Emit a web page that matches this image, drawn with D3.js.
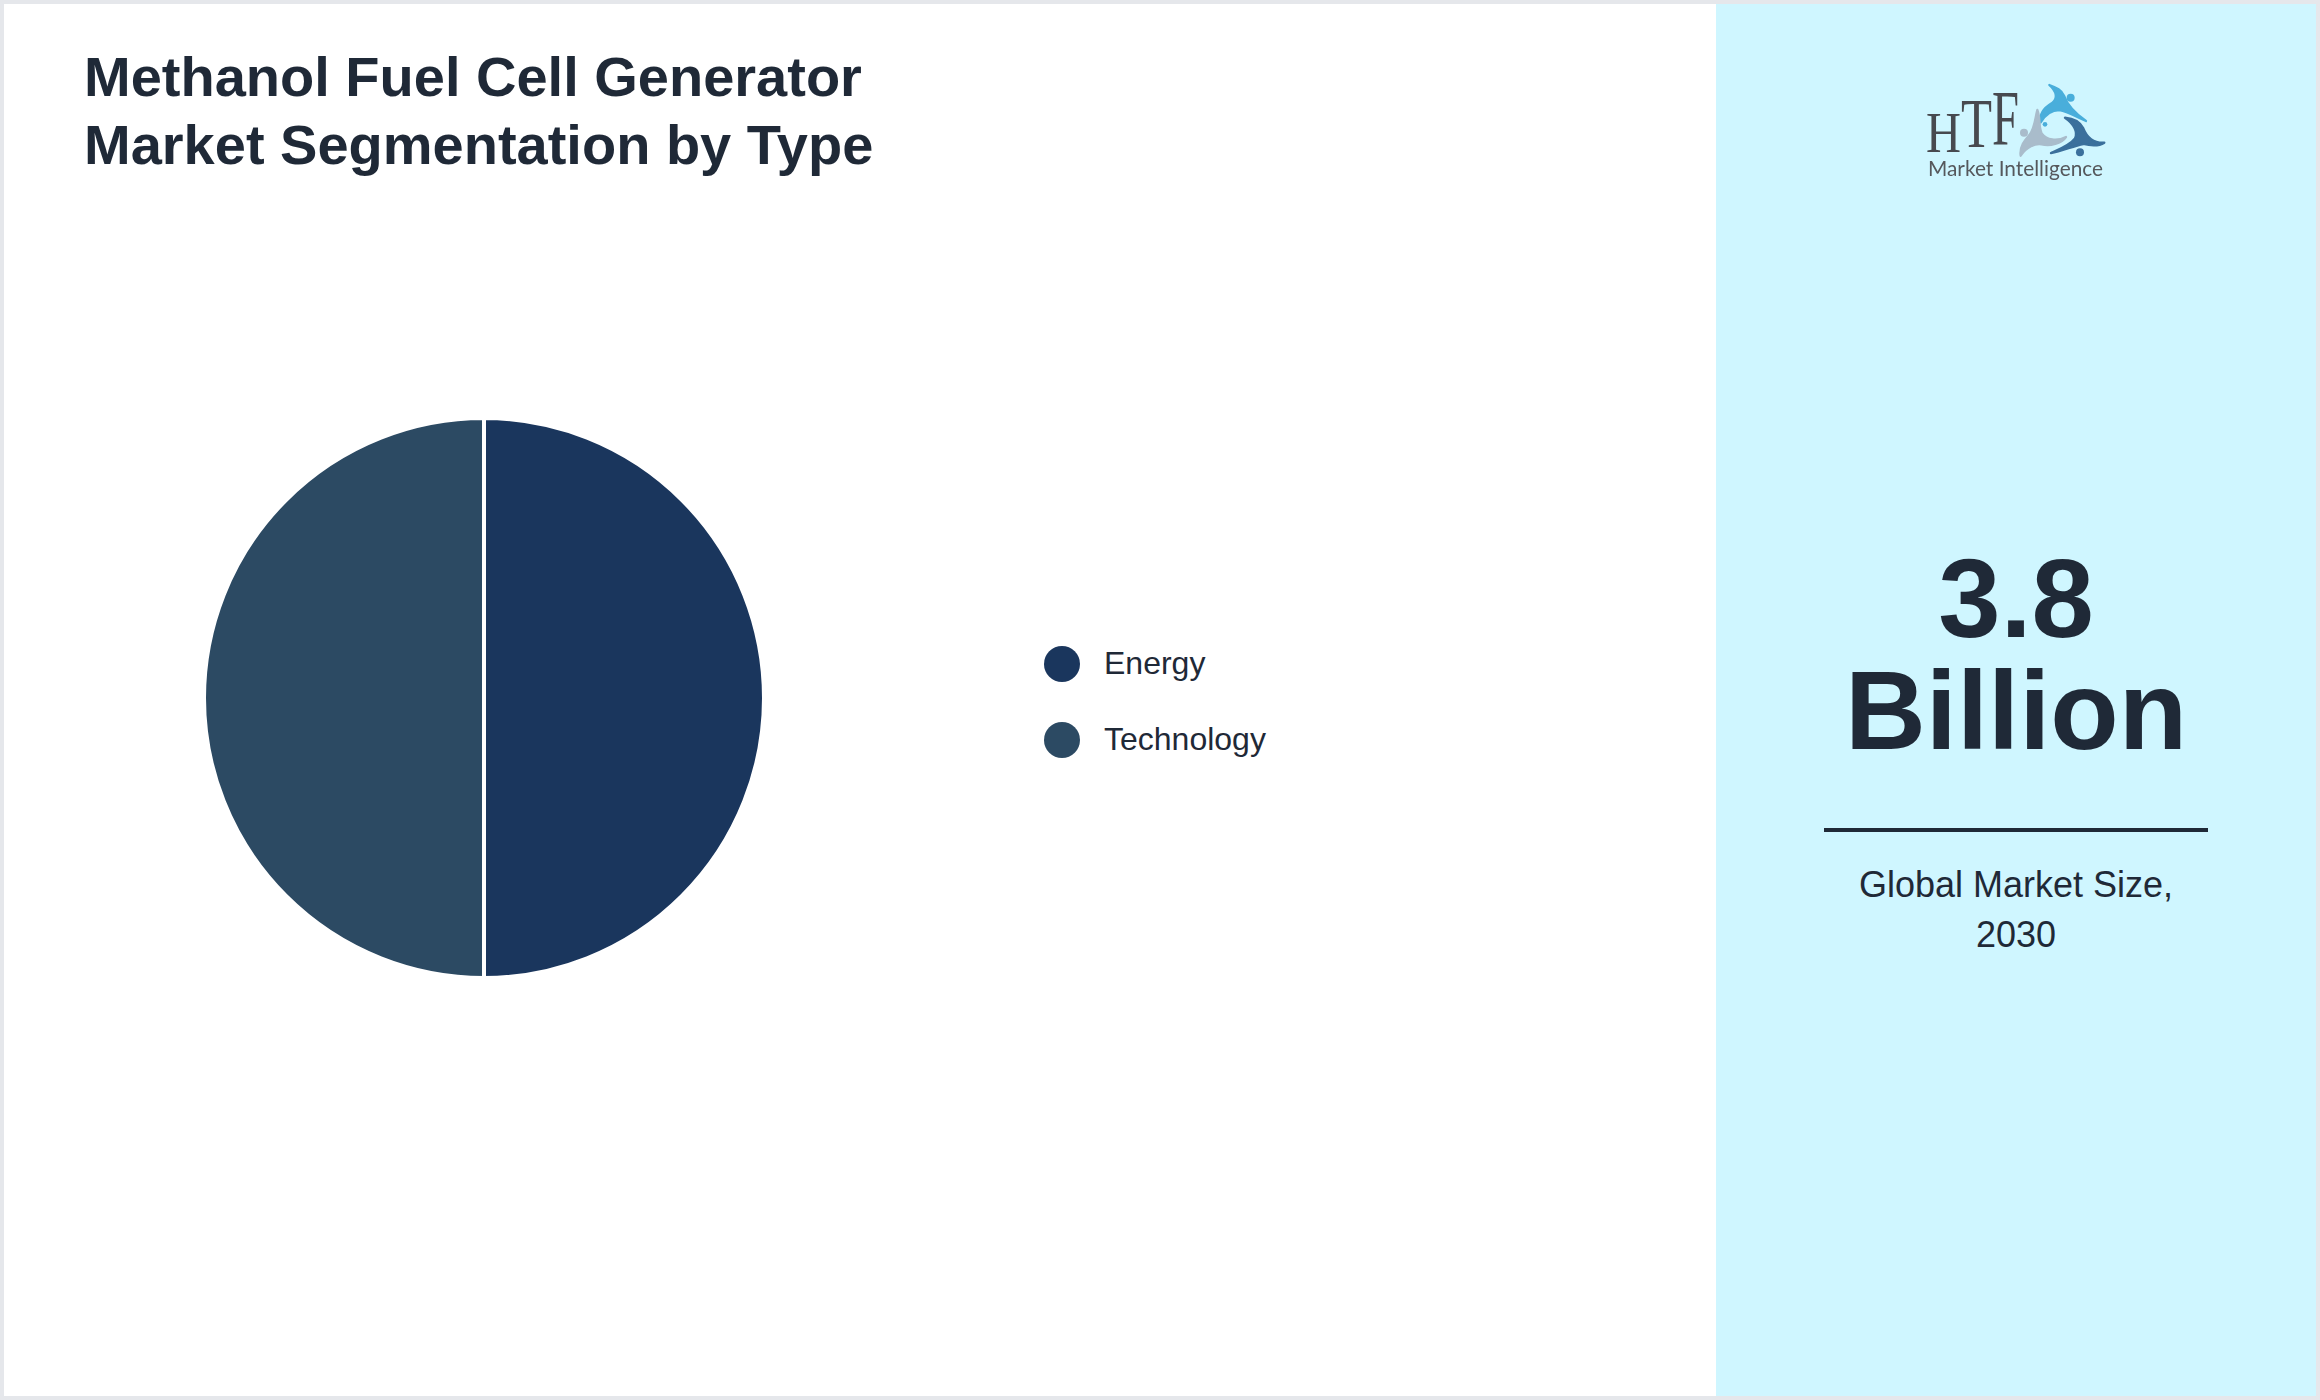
<!DOCTYPE html>
<html><head><meta charset="utf-8">
<script src="https://cdn.jsdelivr.net/npm/d3@7/dist/d3.min.js"></script>
<style>html,body{margin:0;padding:0;background:#fff}svg{display:block}</style>
</head><body><svg id="c" width="2320" height="1400"></svg>
<script>
const titleLines = ["Methanol Fuel Cell Generator", "Market Segmentation by Type"];
const categories = ["Energy", "Technology"];
const shareValues = [50, 50];
const sliceColors = ["#1a365d", "#2c4a63"];
const metricLines = ["3.8", "Billion"];
const captionLines = ["Global Market Size,", "2030"];
const logoLetters = ["H", "T", "F"];
const logoTagline = "Market Intelligence";

const sans = "'Liberation Sans', Arial, sans-serif";
const ink = "#1f2937";
const svg = d3.select("#c");

svg.append("rect").attr("width", 2320).attr("height", 1400).attr("fill", "#e5e7eb");
svg.append("rect").attr("x", 4).attr("y", 4).attr("width", 2312).attr("height", 1392).attr("fill", "#fff");
svg.append("rect").attr("x", 1716).attr("y", 4).attr("width", 600).attr("height", 1392).attr("fill", "#cff6ff");

svg.append("g").selectAll("text").data(titleLines).join("text")
  .attr("x", 84).attr("y", (d, i) => 96 + i * 68)
  .attr("font-family", sans).attr("font-weight", 700).attr("font-size", 56).attr("fill", ink)
  .text(d => d);

const pie = d3.pie().sort(null).value(d => d);
const arc = d3.arc().innerRadius(0).outerRadius(280);
svg.append("g").attr("transform", "translate(484,698)")
  .selectAll("path").data(pie(shareValues)).join("path")
  .attr("d", arc).attr("fill", (d, i) => sliceColors[i])
  .attr("stroke", "#fff").attr("stroke-width", 4);

const legend = svg.append("g").selectAll("g").data(categories).join("g")
  .attr("transform", (d, i) => `translate(1062,${664 + i * 76})`);
legend.append("circle").attr("r", 18).attr("fill", (d, i) => sliceColors[i]);
legend.append("text").attr("x", 42).attr("y", 10)
  .attr("font-family", sans).attr("font-size", 32).attr("fill", ink).text(d => d);

svg.append("g").selectAll("text").data(metricLines).join("text")
  .attr("x", 2016).attr("y", (d, i) => 637 + i * 112).attr("text-anchor", "middle")
  .attr("font-family", sans).attr("font-weight", 700).attr("font-size", 112).attr("fill", ink)
  .text(d => d);
svg.append("rect").attr("x", 1824).attr("y", 828).attr("width", 384).attr("height", 4).attr("fill", ink);
svg.append("g").selectAll("text").data(captionLines).join("text")
  .attr("x", 2016).attr("y", (d, i) => 897 + i * 50.4).attr("text-anchor", "middle")
  .attr("font-family", sans).attr("font-size", 36).attr("fill", ink)
  .text(d => d);

// logo: a soft raster look in the reference, so a slight blur
const defs = svg.append("defs");
defs.append("filter").attr("id", "soft").append("feGaussianBlur").attr("stdDeviation", 0.45);
const logo = svg.append("g").attr("filter", "url(#soft)");
const letterX = [1926, 1961, 1992], letterY = [152, 147, 144], letterSize = [56, 69, 78], letterW = [35, 31, 27];
logo.selectAll("text.l").data(logoLetters).join("text").attr("class", "l")
  .attr("x", (d, i) => letterX[i]).attr("y", (d, i) => letterY[i])
  .attr("font-family", "'Liberation Serif', serif").attr("font-size", (d, i) => letterSize[i])
  .attr("textLength", (d, i) => letterW[i]).attr("lengthAdjust", "spacingAndGlyphs")
  .attr("fill", "#474a4f").text(d => d);
logo.append("text").attr("x", 1928).attr("y", 176)
  .attr("font-family", "Lato, sans-serif").attr("font-size", 21).attr("fill", "#55585c")
  .attr("textLength", 175).attr("lengthAdjust", "spacingAndGlyphs")
  .text(logoTagline);

const mark = logo.append("g").attr("transform", "translate(1910,75) scale(0.3333)")
  .attr("stroke-width", 7).attr("stroke-linejoin", "round");
mark.append("path").attr("fill", "#4aaedb").attr("stroke", "#4aaedb")
  .attr("d", "M418,30 C440,38 455,45 462,62 C470,85 495,115 528,138 C500,125 470,108 448,105 C425,105 405,120 392,142 C388,120 400,100 425,85 C445,70 440,50 418,30 Z");
mark.append("circle").attr("cx", 482).attr("cy", 68).attr("r", 12).attr("fill", "#4aaedb");
mark.append("circle").attr("cx", 405).attr("cy", 148).attr("r", 7).attr("fill", "#4aaedb");
mark.append("path").attr("fill", "#a9bccb").attr("stroke", "#a9bccb")
  .attr("d", "M382,105 C392,130 385,155 395,175 C410,195 440,200 468,186 C455,205 420,215 395,208 C375,205 350,215 332,242 C328,215 345,195 358,180 C375,160 375,130 382,105 Z");
mark.append("circle").attr("cx", 342).attr("cy", 173).attr("r", 12).attr("fill", "#a9bccb");
mark.append("path").attr("fill", "#3a6f9c").attr("stroke", "#3a6f9c")
  .attr("d", "M465,128 C490,130 510,140 520,160 C530,185 550,205 583,203 C565,215 540,212 520,207 C490,212 455,230 423,234 C450,222 480,210 495,190 C505,170 490,145 465,128 Z");
mark.append("circle").attr("cx", 510).attr("cy", 232).attr("r", 12).attr("fill", "#3a6f9c");
</script></body></html>
